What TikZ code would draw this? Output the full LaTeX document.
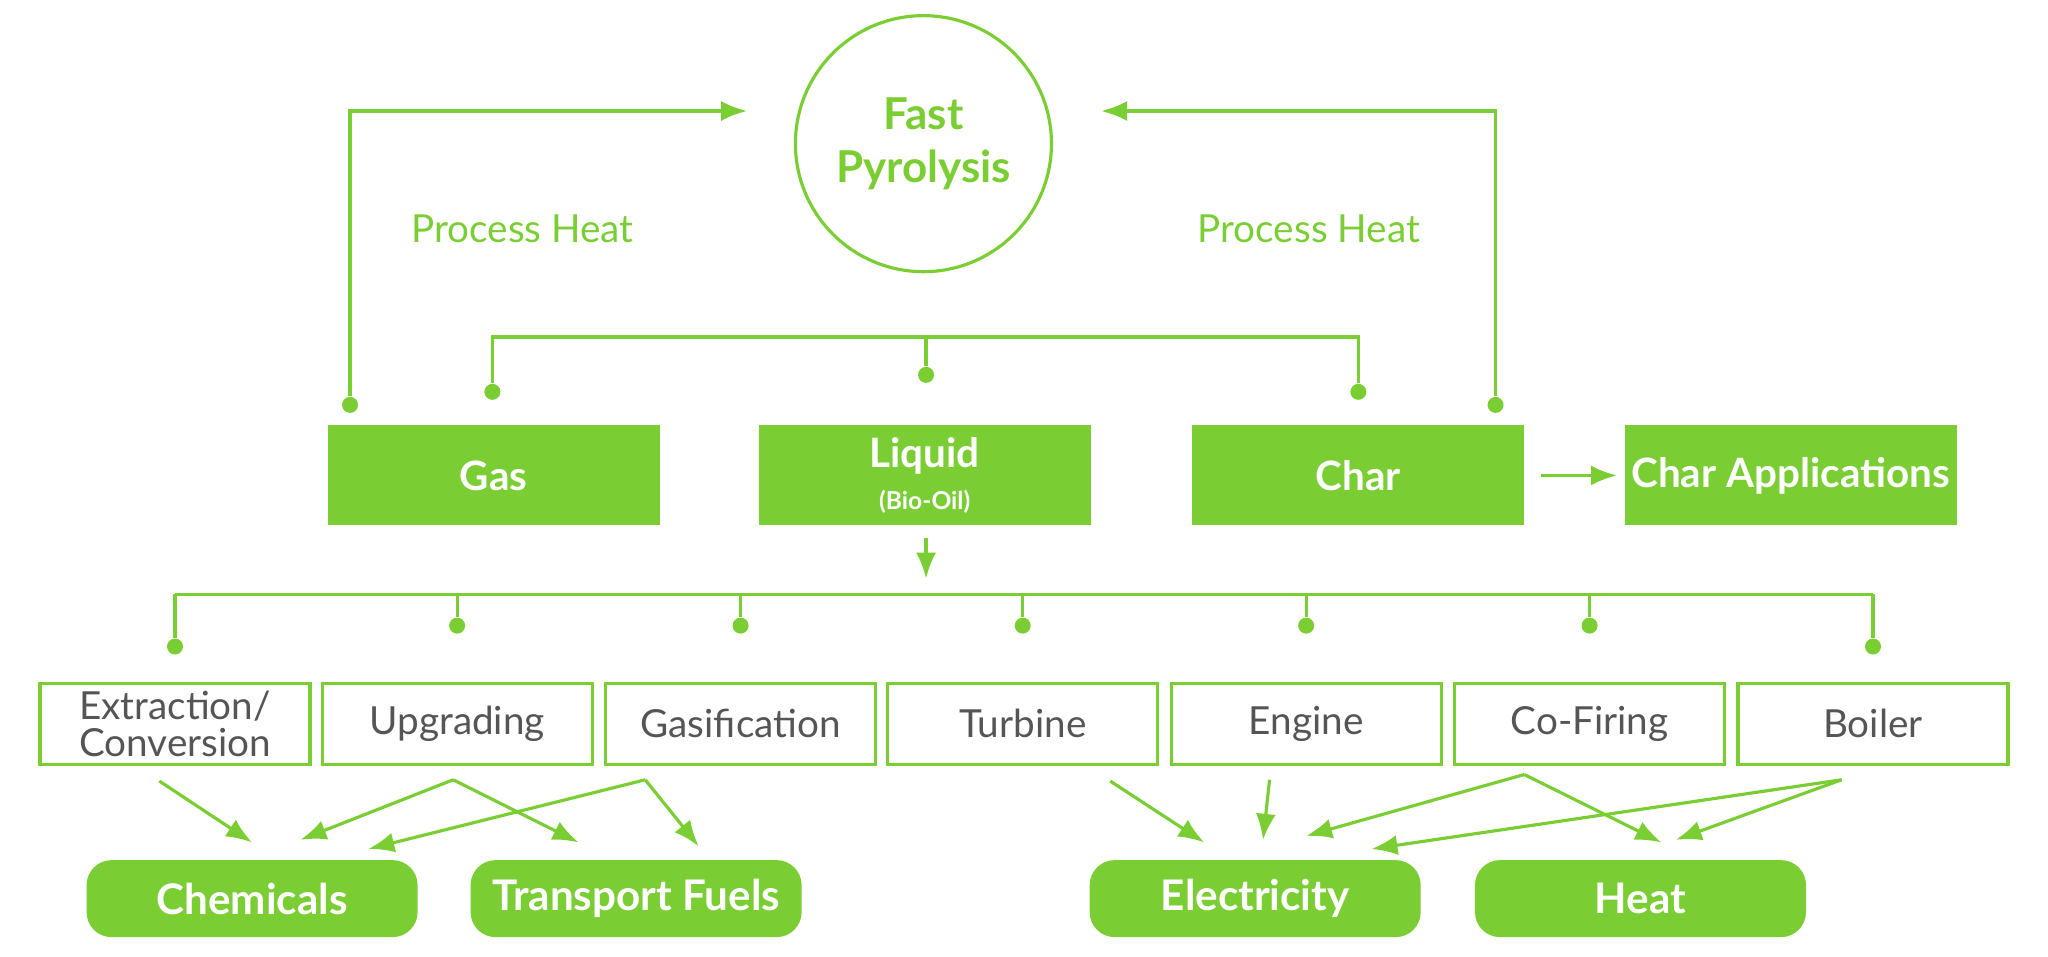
\documentclass[tikz,border=0pt]{standalone}
\usepackage{fontspec}
\setmainfont{Lato}
\usepackage{tikz}
\usetikzlibrary{arrows.meta, positioning}
\definecolor{leaf}{RGB}{122,206,52}
\definecolor{ink}{RGB}{85,85,85}
\tikzset{
  prod/.style={fill=leaf, text=white, font=\bfseries\fontsize{11.5}{13}\selectfont, minimum width=33.2mm, minimum height=10mm, inner sep=0pt},
  unit/.style={draw=leaf, line width=0.9pt, text=ink, font=\fontsize{11}{10.5}\selectfont, minimum width=27mm, minimum height=8.1mm, inner sep=0pt, align=center},
  use/.style={fill=leaf, rounded corners=2.5mm, text=white, font=\bfseries\fontsize{12}{13}\selectfont, minimum width=33.1mm, minimum height=7.7mm, inner sep=0pt},
  link/.style={leaf, line width=0.9pt},
  dot/.style={circle, fill=leaf, inner sep=0pt, minimum size=1.6mm},
  tip/.style={-{Latex[length=2.6mm,width=2mm]}}
}
\begin{document}
\begin{tikzpicture}[x=0.1306mm, y=-0.1306mm]
\useasboundingbox (0,0) rectangle (1568,732);
\node[circle, draw=leaf, line width=0.9pt, minimum size=25.6mm, text=leaf, align=center, font=\bfseries\fontsize{12.5}{15}\selectfont] (fp) at (707,110) {Fast\\Pyrolysis};
\node[text=leaf, font=\fontsize{11}{12}\selectfont] at (400,175) {Process Heat};
\node[text=leaf, font=\fontsize{11}{12}\selectfont] at (1002,175) {Process Heat};
% products
\node[prod] (gas) at (378,364) {Gas};
\node[prod, align=center] (liq) at (708,364) {Liquid\\[-1pt]{\fontsize{7}{8}\selectfont(Bio-Oil)}};
\node[prod] (char) at (1040,364) {Char};
\node[prod] (capp) at (1371,364) {Char Applications};
% feedback of process heat
\node[dot] (gh) at (268,310) {};
\node[dot] (ch) at (1145,310) {};
\coordinate (fpl) at (572,85);
\coordinate (fpr) at (843,85);
\draw[link, tip] (gh) |- (fpl);
\draw[link, tip] (ch) |- (fpr);
\node[dot] (gt) at (377,300) {};
\node[dot] (lt) at (709,287) {};
\node[dot] (ct) at (1040,300) {};
\draw[link] (gt) |- (709,258) -| (ct);
\draw[link] (lt) -- (709,258);
\coordinate (cr) at (1180,364);
\coordinate (ar) at (1238,364);
\draw[link, tip] (cr) -- (ar);
\coordinate (lb) at (709,412);
\coordinate (la) at (709,443);
\draw[link, tip] (lb) -- (la);
% conversion routes
\foreach \n/\x/\t in {ex/134/{Extraction/\\Conversion}, up/350/Upgrading, ga/567/Gasification, tu/783/Turbine, en/1000/Engine, co/1217/Co-Firing, bo/1434/Boiler}{
  \node[unit] (\n) at (\x,554) {\t};
}
\foreach \n/\x/\y in {ex/134/495, up/350/479, ga/567/479, tu/783/479, en/1000/479, co/1217/479, bo/1434/495}{
  \node[dot] (d\n) at (\x,\y) {};
  \draw[link] (d\n) -- (\x,455);
}
\draw[link] (134,455) -- (1434,455);
% end uses
\node[use] (chem) at (193,688) {Chemicals};
\node[use] (fuel) at (487,688) {Transport Fuels};
\node[use] (elec) at (961,688) {Electricity};
\node[use] (heat) at (1256,688) {Heat};
\coordinate (aex) at (122,598);
\coordinate (aup) at (347,597);
\coordinate (aga) at (494,597);
\coordinate (atu) at (850,598);
\coordinate (aen) at (972,597);
\coordinate (aco) at (1167,593);
\coordinate (abo) at (1410,597);
\draw[link, tip] (aex) -- (193,645);
\draw[link, tip] (aup) -- (230,643);
\draw[link, tip] (aup) -- (443,645);
\draw[link, tip] (aga) -- (282,650);
\draw[link, tip] (aga) -- (535,648);
\draw[link, tip] (atu) -- (922,645);
\draw[link, tip] (aen) -- (967,643);
\draw[link, tip] (aco) -- (1000,640);
\draw[link, tip] (aco) -- (1272,645);
\draw[link, tip] (abo) -- (1050,650);
\draw[link, tip] (abo) -- (1283,643);
\end{tikzpicture}
\end{document}
